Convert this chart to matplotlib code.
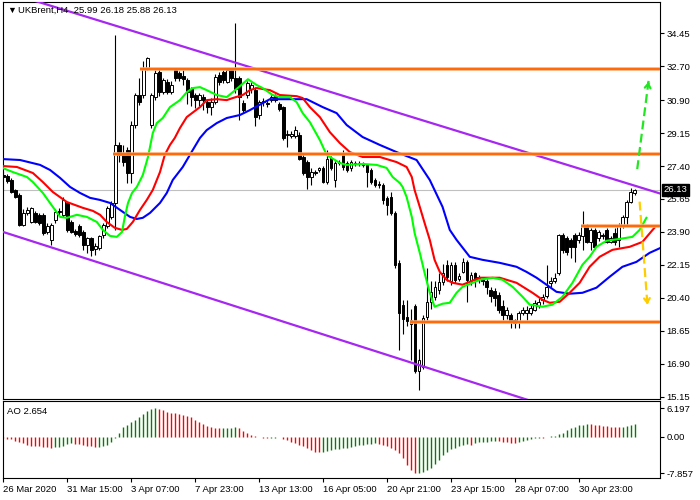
import matplotlib
matplotlib.use("Agg")
import matplotlib.pyplot as plt
import numpy as np

plt.rcParams["font.family"] = ["Liberation Sans", "DejaVu Sans"]
plt.rcParams["font.size"] = 6.8

# ---- values (UKBrent, H4) ----
title = "UKBrent,H4  25.99 26.18 25.88 26.13"
last_price = 26.13

opens = [
    26.95, 26.85, 26.66, 26.13, 25.86, 24.27, 24.90, 24.45, 24.90, 24.80,
    24.80, 23.90, 23.48, 24.54, 25.00, 24.80, 25.42, 24.45, 23.95, 24.19,
    23.92, 23.21, 23.57, 23.00, 23.04, 23.74, 24.19, 24.72, 25.44, 28.52,
    28.10, 28.25, 27.03, 29.58, 31.17, 31.17, 32.60, 29.58, 31.06, 32.40,
    31.33, 31.88, 31.35, 32.59, 32.32, 32.20, 31.96, 31.50, 31.16, 30.90,
    31.08, 30.80, 30.55, 30.82, 32.24, 32.41, 31.88, 32.50, 32.06, 32.06,
    30.73, 31.17, 31.50, 31.43, 30.10, 30.85, 30.75, 30.90, 31.10, 30.70,
    30.53, 29.05, 29.00, 29.00, 29.05, 27.90, 27.60, 26.80, 27.10, 27.20,
    27.30, 26.55, 27.85, 26.66, 27.55, 28.10, 27.56, 27.30, 27.55, 27.50,
    27.55, 27.46, 27.19, 26.66, 26.45, 26.40, 25.70, 25.76, 24.90, 22.26,
    20.00, 19.40, 19.00, 19.95, 16.50, 16.75, 19.40, 20.20, 20.46, 20.80,
    21.25, 22.15, 21.27, 22.15, 21.40, 21.80, 22.33, 21.27, 21.70, 21.50,
    21.40, 21.27, 20.83, 20.74, 20.56, 19.95, 19.50, 19.50, 19.24, 19.15,
    19.60, 19.60, 19.60, 19.77, 19.95, 20.30, 20.48, 21.20, 21.30, 21.70,
    23.75, 23.57, 23.48, 23.75, 23.48, 23.66, 24.19, 23.39, 24.01, 23.57,
    23.75, 24.00, 23.39, 23.83, 23.48, 24.27, 24.72, 25.51, 25.99,
]
highs = [
    27.15, 27.00, 26.75, 26.20, 25.95, 25.10, 25.20, 25.25, 25.00, 24.90,
    24.90, 24.35, 24.40, 25.10, 25.15, 25.78, 25.50, 24.55, 24.05, 24.30,
    24.00, 23.65, 23.65, 23.30, 23.75, 24.40, 25.30, 25.55, 34.35, 28.70,
    28.50, 28.40, 29.80, 31.30, 32.10, 33.00, 33.20, 31.30, 32.50, 32.55,
    32.10, 32.00, 31.90, 32.60, 32.45, 32.50, 32.10, 31.60, 31.30, 31.30,
    31.20, 30.90, 31.00, 32.30, 32.40, 32.50, 32.60, 32.60, 34.98, 32.20,
    30.90, 31.90, 31.85, 31.60, 30.90, 31.00, 30.90, 31.15, 31.20, 30.80,
    30.60, 29.30, 29.25, 29.50, 29.20, 28.10, 27.70, 27.30, 27.20, 27.35,
    27.40, 28.25, 27.95, 27.65, 27.70, 28.25, 27.65, 27.70, 27.65, 27.65,
    27.60, 27.50, 27.30, 26.75, 26.60, 26.50, 25.80, 26.00, 25.00, 22.40,
    20.30, 20.30, 19.80, 20.10, 17.70, 19.50, 22.00, 21.30, 21.30, 21.70,
    22.20, 22.40, 22.30, 22.30, 21.70, 22.50, 22.40, 21.80, 21.80, 21.60,
    21.50, 21.40, 21.00, 20.90, 20.70, 20.30, 19.90, 19.60, 19.30, 19.70,
    19.90, 19.95, 20.00, 20.30, 20.40, 20.60, 22.15, 21.50, 21.70, 23.80,
    23.85, 23.70, 23.60, 23.85, 23.90, 25.00, 24.30, 24.10, 24.10, 24.00,
    23.85, 24.10, 23.70, 24.10, 24.40, 24.80, 25.60, 26.22, 26.18,
]
lows = [
    26.70, 26.50, 25.95, 25.70, 24.20, 24.20, 24.80, 24.35, 24.35, 24.25,
    23.75, 23.80, 23.20, 24.40, 24.80, 24.70, 23.90, 23.85, 23.70, 23.65,
    22.95, 22.80, 22.60, 22.70, 22.95, 23.60, 24.10, 24.60, 24.00, 27.60,
    27.40, 26.50, 26.50, 29.40, 30.65, 31.00, 32.50, 29.40, 30.90, 31.10,
    31.20, 31.20, 31.20, 31.90, 31.90, 31.70, 30.70, 30.60, 30.50, 30.60,
    30.40, 30.20, 30.10, 30.70, 31.70, 31.80, 31.80, 31.90, 31.30, 29.85,
    30.20, 31.00, 31.30, 29.50, 29.90, 30.60, 30.55, 30.80, 30.80, 30.30,
    28.80, 28.40, 28.90, 28.90, 27.70, 26.90, 26.20, 26.40, 26.95, 27.10,
    26.50, 26.45, 27.20, 26.30, 27.45, 27.20, 27.10, 27.15, 27.40, 27.40,
    27.35, 26.30, 26.45, 26.30, 26.25, 25.40, 24.80, 24.80, 22.00, 17.65,
    18.50, 18.90, 17.10, 16.40, 15.50, 16.60, 19.20, 19.80, 20.30, 20.60,
    21.10, 21.30, 21.10, 21.20, 21.30, 21.70, 20.20, 21.10, 21.00, 21.20,
    21.10, 20.60, 20.20, 19.95, 19.60, 19.24, 19.30, 18.80, 18.80, 18.80,
    19.50, 19.25, 19.50, 19.70, 19.85, 20.10, 20.40, 21.00, 21.20, 21.60,
    22.80, 22.70, 22.50, 22.30, 23.30, 22.95, 23.30, 22.95, 23.00, 23.40,
    23.55, 23.30, 23.30, 23.20, 23.12, 24.10, 24.20, 25.42, 25.88,
]
closes = [
    26.80, 26.60, 26.04, 25.78, 24.27, 24.90, 25.05, 25.16, 24.45, 24.36,
    23.83, 24.20, 24.27, 24.98, 24.95, 25.60, 24.00, 23.92, 23.80, 23.74,
    23.21, 23.57, 22.95, 23.15, 23.66, 24.27, 25.16, 25.42, 28.50, 27.99,
    27.60, 27.03, 29.58, 31.17, 30.82, 32.59, 33.15, 31.17, 32.33, 31.33,
    31.96, 31.35, 31.70, 32.06, 32.06, 32.00, 31.33, 31.08, 30.90, 31.16,
    30.90, 30.55, 30.80, 32.15, 31.88, 31.97, 32.50, 32.06, 31.50, 31.06,
    30.38, 31.80, 31.70, 30.00, 30.79, 30.80, 30.70, 31.06, 30.90, 30.45,
    28.89, 29.10, 29.10, 29.30, 27.80, 27.03, 26.80, 27.10, 27.05, 27.30,
    26.55, 27.80, 27.30, 27.56, 27.60, 27.35, 27.20, 27.60, 27.50, 27.55,
    27.45, 27.08, 26.55, 26.40, 26.40, 25.60, 25.35, 24.90, 22.15, 19.60,
    19.30, 19.15, 19.20, 16.50, 17.10, 19.35, 20.20, 20.70, 20.99, 21.25,
    21.73, 21.50, 22.15, 21.36, 21.55, 22.33, 21.36, 21.60, 21.27, 21.40,
    21.30, 21.00, 20.48, 20.39, 19.77, 19.50, 19.77, 19.15, 19.06, 19.60,
    19.77, 19.77, 19.86, 20.12, 20.20, 20.45, 21.00, 21.30, 21.45, 23.75,
    22.95, 22.86, 23.12, 23.12, 23.75, 24.19, 23.39, 24.01, 23.12, 23.92,
    23.66, 23.39, 23.57, 23.39, 24.27, 24.72, 25.51, 26.04, 26.13,
]

# Alligator lines (read at bar positions, shifted lines run past the last bar)
jaw_x = [-0.2, 4.2, 9.2, 11.7, 14.2, 16.7, 19.2, 21.7, 24.2, 26.7,
         29.2, 31.7, 33.4, 34.9, 36.7, 39.2, 40.9, 42.4, 44.9, 47.4,
         49.2, 50.9, 53.4, 55.9, 59.2, 61.7, 64.9, 66.7, 73.4, 75.9,
         79.9, 83.4, 85.9, 89.9, 94.2, 98.4, 103.4, 106.7, 109.9, 111.7,
         113.4, 116.7, 119.9, 124.2, 128.4, 130.9, 133.4, 135.9, 138.4, 141.7,
         144.9, 148.4, 151.7, 154.9, 158.4, 161.7, 164.5]
jaw_y = [27.77, 27.72, 27.46, 27.19, 26.77, 26.29, 25.97, 25.71, 25.60, 25.44,
         25.07, 24.70, 24.59, 24.65, 24.91, 25.44, 25.97, 26.66, 27.35, 28.25,
         28.89, 29.31, 29.68, 29.95, 30.11, 30.37, 30.74, 30.95, 30.95, 30.95,
         30.53, 30.21, 29.58, 28.94, 28.52, 28.14, 27.72, 26.66, 25.23, 24.01,
         23.48, 22.58, 22.42, 22.26, 22.05, 21.78, 21.47, 21.10, 20.72, 20.62,
         20.67, 20.94, 21.52, 22.05, 22.31, 22.79, 23.06]
teeth_x = [-0.2, 3.4, 7.4, 9.9, 12.4, 15.9, 19.9, 22.4, 24.2, 25.9,
           27.9, 29.7, 30.9, 32.4, 34.2, 35.9, 37.4, 39.2, 40.4, 41.7,
           42.9, 44.2, 45.9, 49.2, 50.9, 53.4, 55.9, 57.4, 59.9, 61.7,
           63.4, 66.7, 69.2, 73.4, 74.9, 76.7, 79.2, 81.7, 84.2, 86.7,
           89.9, 94.2, 98.4, 100.9, 102.2, 102.9, 104.2, 105.4, 106.7, 107.9,
           109.2, 110.9, 112.4, 114.9, 116.7, 119.2, 124.2, 128.4, 132.4, 134.9,
           136.7, 139.2, 141.7, 144.2, 146.7, 149.2, 152.4, 156.7, 159.9, 162.9]
teeth_y = [27.40, 27.35, 27.03, 26.55, 26.02, 25.49, 25.18, 25.02, 24.81, 24.43,
           24.12, 24.01, 24.06, 24.43, 25.07, 25.60, 26.13, 27.08, 27.99, 28.52,
           28.89, 29.42, 30.00, 30.53, 30.90, 30.95, 30.90, 31.01, 31.17, 31.43,
           31.54, 31.43, 31.17, 31.11, 31.01, 30.53, 30.00, 29.20, 28.62, 28.14,
           27.88, 27.88, 27.61, 27.35, 26.82, 26.13, 25.23, 24.38, 23.48, 22.42,
           21.78, 21.36, 21.20, 21.10, 21.25, 21.47, 21.47, 21.20, 20.67, 20.30,
           20.14, 20.19, 20.67, 21.20, 22.05, 22.58, 22.95, 23.11, 23.37, 24.12]
lips_x = [-0.2, 2.4, 5.9, 7.4, 9.9, 12.4, 14.2, 15.9, 18.4, 20.9,
          23.4, 24.9, 26.7, 28.4, 29.7, 30.4, 31.2, 32.2, 33.4, 34.9,
          36.2, 37.4, 38.4, 39.9, 41.7, 44.2, 45.9, 47.4, 49.2, 50.9,
          53.4, 55.9, 57.4, 59.2, 61.2, 63.4, 64.9, 67.4, 69.2, 71.7,
          73.4, 74.9, 76.7, 79.2, 80.9, 84.2, 85.9, 89.9, 93.4, 95.9,
          97.4, 99.2, 99.9, 100.9, 102.2, 102.9, 104.2, 105.4, 106.7, 107.9,
          109.9, 111.7, 113.4, 114.9, 117.4, 119.2, 122.4, 124.9, 127.4, 129.9,
          131.7, 134.9, 137.4, 139.9, 142.4, 144.9, 146.7, 148.4, 150.9, 154.2,
          157.4, 159.2, 160.9]
lips_y = [27.30, 27.08, 26.82, 26.55, 25.97, 25.23, 24.70, 24.65, 24.81, 24.70,
          24.43, 24.01, 23.69, 23.64, 23.90, 24.70, 25.44, 25.97, 26.29, 26.92,
          27.88, 29.15, 29.68, 29.95, 30.53, 30.90, 31.32, 31.54, 31.59, 31.43,
          31.17, 31.06, 31.32, 31.64, 32.01, 31.70, 31.54, 31.17, 31.06, 31.06,
          30.79, 30.21, 29.73, 28.78, 27.99, 27.56, 27.46, 27.51, 27.46, 27.30,
          26.82, 26.50, 26.29, 25.76, 24.70, 23.85, 22.79, 21.73, 20.67, 19.93,
          20.09, 20.14, 20.67, 20.99, 21.20, 21.36, 21.47, 21.36, 20.99, 20.46,
          20.04, 19.93, 20.04, 20.46, 21.20, 22.16, 22.58, 23.11, 23.43, 23.53,
          23.64, 24.01, 24.65]

# Awesome Oscillator, one value per bar
ao_values = [
    -0.35, -0.45, -0.6, -0.9, -1.1, -1.4, -1.75, -1.9, -2.0, -2.1,
    -2.15, -2.28, -2.35, -2.3, -2.15, -1.9, -1.6, -1.4, -1.55, -1.65,
    -1.8, -2.0, -2.1, -2.3, -2.25, -2.1, -1.8, -1.1, -0.2, 0.9,
    2.0, 2.6, 3.2, 3.6, 4.3, 5.0, 5.6, 6.0, 6.197, 6.05,
    5.7, 5.35, 5.2, 5.1, 4.95, 4.75, 4.5, 4.25, 3.6, 3.2,
    2.85, 2.35, 2.0, 1.9, 1.78, 1.85, 1.9, 1.98, 2.05, 1.8,
    1.3, 0.85, 0.35, 0.1, -0.1, -0.2, -0.3, -0.25, -0.2, -0.15,
    -0.45, -0.7, -1.05, -1.4, -1.75, -2.1, -2.5, -2.85, -3.2, -3.35,
    -3.3, -3.05, -2.85, -2.7, -2.6, -2.5, -2.35, -2.15, -1.95, -1.8,
    -1.7, -1.6, -1.5, -1.4, -1.55, -1.8, -2.1, -2.5, -2.85, -3.55,
    -4.6, -6.05, -7.1, -7.857, -7.82, -7.6, -7.2, -6.7, -6.0, -5.0,
    -3.9, -3.2, -2.65, -2.35, -1.95, -1.8, -1.65, -1.7, -1.45, -1.25,
    -1.15, -1.05, -0.95, -0.85, -0.9, -1.05, -1.2, -1.28, -1.32, -1.1,
    -0.9, -0.7, -0.5, -0.35, -0.2, -0.3, -0.05, 0.05, 0.15, 0.5,
    0.9, 1.4, 1.8, 2.1, 2.45, 2.6, 2.7, 2.65, 2.55, 2.45,
    2.35, 2.25, 2.15, 2.05, 2.0, 2.1, 2.3, 2.45, 2.654,
]

time_labels = ["26 Mar 2020", "31 Mar 15:00", "3 Apr 07:00", "7 Apr 23:00",
               "13 Apr 13:00", "16 Apr 05:00", "20 Apr 21:00", "23 Apr 15:00",
               "28 Apr 07:00", "30 Apr 23:00"]
price_ticks = [34.45, 32.70, 30.90, 29.15, 27.40, 25.65, 23.90, 22.15,
               20.40, 18.65, 16.90, 15.15]
ao_ticks = [6.197, 0.0, -7.857]

# drawn objects: support/resistance levels (price, first bar) and channel
levels = [32.54, 28.04, 24.22, 19.12]
level_start = [34.2, 27.5, 144.6, 101.7]
channel_x = [-0.5, 164.5]
channel_upper = [36.72, 25.93]
channel_lower = [23.93, 12.72]
up_arrow = [(158.6, 27.24), (161.5, 32.02)]
down_arrow = [(159.2, 25.51), (161.2, 19.90)]

# ---- figure ----
W, H = 700, 500


def box(x0, y0, x1, y1):
    return [x0 / W, 1 - y1 / H, (x1 - x0) / W, (y1 - y0) / H]


fig = plt.figure(figsize=(7, 5), dpi=100)
ax = fig.add_axes(box(2.5, 2, 660, 399))
ao_ax = fig.add_axes(box(2.5, 401, 660, 478.3), sharex=ax)

idx = np.arange(len(closes))
o, h, l, c = (np.array(v) for v in (opens, highs, lows, closes))
bull = c >= o

ax.axhline(last_price, color="#c0c0c0", lw=0.8, zorder=1)
ax.vlines(idx, l, h, color="black", lw=0.8, zorder=2)
ax.bar(idx, np.abs(c - o), bottom=np.minimum(o, c), width=0.72,
       color=np.where(bull, "white", "black"), edgecolor="black",
       linewidth=0.7, zorder=2.5)

ax.plot(jaw_x, jaw_y, color="#0000ff", lw=1.5, zorder=3)
ax.plot(teeth_x, teeth_y, color="#ff0000", lw=1.5, zorder=3)
ax.plot(lips_x, lips_y, color="#00ff00", lw=1.5, zorder=3)

ax.plot(channel_x, channel_upper, color="#a626f2", lw=1.6, zorder=4)
ax.plot(channel_x, channel_lower, color="#a626f2", lw=1.6, zorder=4)

ax.hlines(levels, level_start, 164.5, color="#ffab70", lw=2.6, zorder=4)
ax.hlines(levels, level_start, 164.5, color="#ff6400", lw=1.3, zorder=4.1)

for (p0, p1), col in ((up_arrow, "#22e622"), (down_arrow, "#ffcc00")):
    ax.plot([p0[0], p1[0]], [p0[1], p1[1]], color=col, lw=1.6,
            dashes=(4, 2), zorder=5)
    back = (p1[0] - (p1[0] - p0[0]) * 0.08, p1[1] - (p1[1] - p0[1]) * 0.08)
    ax.annotate("", xy=p1, xytext=back, zorder=5,
                arrowprops=dict(arrowstyle="->,head_length=0.45,head_width=0.3",
                                color=col, lw=1.6))

ax.set_xlim(-0.2, 164.3)
ax.set_ylim(15.03, 36.11)
ax.yaxis.tick_right()
ax.set_yticks(price_ticks)
ax.set_yticklabels([f"{v:.2f}" for v in price_ticks])
ax.tick_params(axis="y", length=3, width=0.8, pad=1.5, labelsize=6.8)
ax.tick_params(axis="x", bottom=False, labelbottom=False)
ax.annotate(f"{last_price:.2f}", xy=(1, last_price), xycoords=("axes fraction", "data"),
            xytext=(2.5, 0), textcoords="offset points", ha="left", va="center",
            color="white", fontsize=6.8, annotation_clip=False, zorder=10,
            bbox=dict(boxstyle="square,pad=0.2", fc="black", ec="black"))

ao_colors = ["#ff0000"] + ["#008000" if b > a else "#ff0000"
                           for a, b in zip(ao_values[:-1], ao_values[1:])]
ao_ax.vlines(idx, 0, ao_values, colors=ao_colors, lw=1.0)
ao_ax.set_ylim(-8.99, 7.72)
ao_ax.yaxis.tick_right()
ao_ax.set_yticks(ao_ticks)
ao_ax.set_yticklabels(["6.197", "0.00", "-7.857"])
ao_ax.tick_params(axis="y", length=3, width=0.8, pad=1.5, labelsize=6.8)
ao_ax.set_xticks(np.arange(len(time_labels)) * 16)
ao_ax.set_xticklabels(time_labels, ha="left")
ao_ax.tick_params(axis="x", length=3, width=0.8, pad=1.5, labelsize=6.8)

for a in (ax, ao_ax):
    for s in a.spines.values():
        s.set_linewidth(0.8)

fig.text(7 / W, 1 - 10.7 / H, "\u25bc", fontsize=6.5, va="center", ha="left")
fig.text(18 / W, 1 - 10.7 / H, title, fontsize=6.8, va="center", ha="left")
fig.text(7 / W, 1 - 411 / H, f"AO {ao_values[-1]:.3f}", fontsize=6.8,
         va="center", ha="left")

fig.savefig("out.png", dpi=100)
